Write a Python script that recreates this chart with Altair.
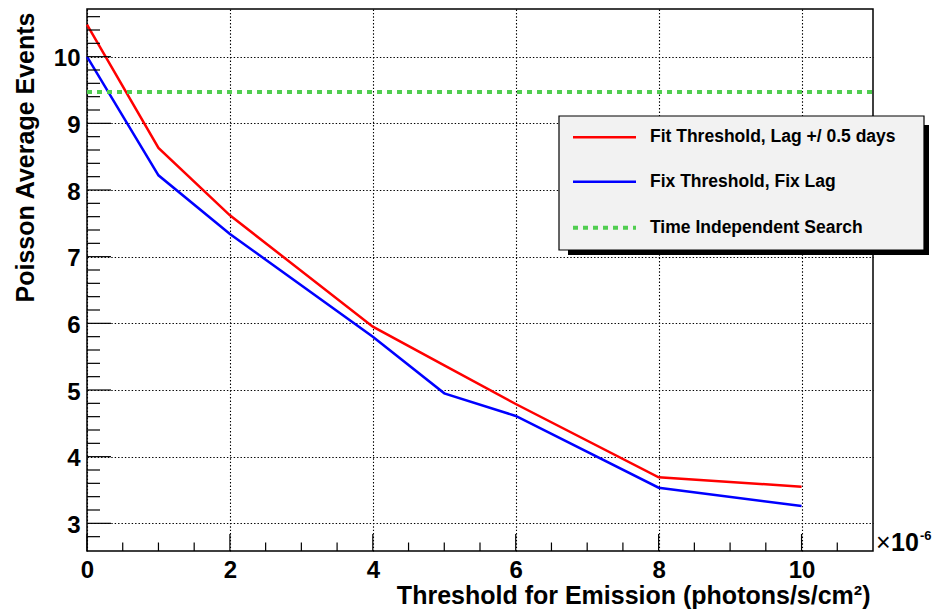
import altair as alt
import pandas as pd

# ---------------- data ----------------
x_fit = [0, 1, 2, 4, 5, 6, 8, 10]
y_fit = [10.48, 8.63, 7.62, 5.95, 5.37, 4.79, 3.69, 3.55]
x_fix = [0, 1, 2, 4, 5, 6, 8, 10]
y_fix = [10.0, 8.22, 7.34, 5.80, 4.95, 4.61, 3.535, 3.26]
time_indep = [9.47]

series_names = ["Fit Threshold, Lag +/ 0.5 days", "Fix Threshold, Fix Lag", "Time Independent Search"]
series_colors = ["#ff0000", "#0000ff", "#50cd50"]

x_major = [0, 2, 4, 6, 8, 10]
x_minor = [0.5, 1, 1.5, 2.5, 3, 3.5, 4.5, 5, 5.5, 6.5, 7, 7.5, 8.5, 9, 9.5, 10.5]
y_major = [3, 4, 5, 6, 7, 8, 9, 10]
y_minor = [2.8, 3.2, 3.4, 3.6, 3.8, 4.2, 4.4, 4.6, 4.8, 5.2, 5.4, 5.6, 5.8,
           6.2, 6.4, 6.6, 6.8, 7.2, 7.4, 7.6, 7.8, 8.2, 8.4, 8.6, 8.8,
           9.2, 9.4, 9.6, 9.8, 10.2, 10.4, 10.6]

x_title = "Threshold for Emission (photons/s/cm²)"
y_title = "Poisson Average Events"

X_DOMAIN = [0, 11]
Y_DOMAIN = [2.585, 10.715]
W, H = 786, 542
FONT = "Liberation Sans"

xs = alt.Scale(domain=X_DOMAIN, nice=False, zero=False)
ys = alt.Scale(domain=Y_DOMAIN, nice=False, zero=False)

df_lines = pd.DataFrame({
    "x": x_fit + x_fix,
    "y": y_fit + y_fix,
    "series": [series_names[0]] * len(x_fit) + [series_names[1]] * len(x_fix),
})

grid_style = dict(grid=True, gridColor="black", gridDash=[1.4, 2], gridWidth=1.1, gridOpacity=1,
                  ticks=False, tickSize=0, domain=False,
                  labelFont=FONT, labelFontWeight="bold", labelFontSize=24, labelColor="black",
                  labelFlush=False, labelOverlap=False,
                  titleFont=FONT, titleFontWeight="bold", titleFontSize=25, titleColor="black")

x_axis = alt.Axis(values=x_major, format="d", title=x_title,
                  labelPadding=26, labelBaseline="alphabetic",
                  titleX=783, titleY=52, titleAlign="right", titleBaseline="alphabetic",
                  **grid_style)
y_axis = alt.Axis(values=y_major, format="d", title=y_title,
                  labelPadding=7, labelOffset=2,
                  titleX=-54, titleY=3, titleAngle=270, titleAlign="right", titleBaseline="alphabetic",
                  **grid_style)

lines = alt.Chart(df_lines).mark_line(strokeWidth=2.5).encode(
    x=alt.X("x:Q", scale=xs, axis=x_axis, title=x_title),
    y=alt.Y("y:Q", scale=ys, axis=y_axis, title=y_title),
    color=alt.Color("series:N", scale=alt.Scale(domain=series_names[:2], range=series_colors[:2]), legend=None),
    detail="series:N",
)

green = alt.Chart(pd.DataFrame({"y": time_indep})).mark_rule(
    color=series_colors[2], strokeWidth=4, strokeDash=[5, 5]
).encode(y=alt.Y("y:Q", scale=ys, axis=y_axis, title=y_title), x=alt.value(0), x2=alt.value(W))

def xticks(vals, length):
    return alt.Chart(pd.DataFrame({"x": vals})).mark_rule(color="black", strokeWidth=1.2).encode(
        x=alt.X("x:Q", scale=xs, axis=x_axis, title=x_title), y=alt.value(H), y2=alt.value(H - length))

def yticks(vals, length):
    return alt.Chart(pd.DataFrame({"y": vals})).mark_rule(color="black", strokeWidth=1.2).encode(
        y=alt.Y("y:Q", scale=ys, axis=y_axis, title=y_title), x=alt.value(0), x2=alt.value(length))

one = pd.DataFrame({"k": [0]})

shadow = alt.Chart(one).mark_rect(color="black").encode(
    x=alt.value(481), x2=alt.value(842), y=alt.value(116), y2=alt.value(246))
box = alt.Chart(one).mark_rect(fill="#f2f2f2", stroke="black", strokeWidth=1.2).encode(
    x=alt.value(472), x2=alt.value(837), y=alt.value(107), y2=alt.value(241))

legend_layers = []
row_y = [128.3, 172.7, 218.7]
for i, name in enumerate(series_names):
    if i < 2:
        sample = alt.Chart(one).mark_rule(color=series_colors[i], strokeWidth=2.5)
    else:
        sample = alt.Chart(one).mark_rule(color=series_colors[i], strokeWidth=4, strokeDash=[5, 5])
    legend_layers.append(sample.encode(x=alt.value(486), x2=alt.value(549), y=alt.value(row_y[i])))
    legend_layers.append(
        alt.Chart(one).mark_text(text=name, align="left", baseline="middle", font=FONT,
                                 fontSize=17.5, fontWeight="bold", color="black")
        .encode(x=alt.value(563), y=alt.value(row_y[i])))

times = alt.Chart(one).mark_text(text="×", align="left", baseline="alphabetic", font=FONT,
                                 fontSize=25, color="black").encode(x=alt.value(789), y=alt.value(542))
ten = alt.Chart(one).mark_text(text="10", align="left", baseline="alphabetic", font=FONT,
                               fontSize=25, fontWeight="bold", color="black").encode(x=alt.value(804), y=alt.value(542))
expo = alt.Chart(one).mark_text(text="-6", align="left", baseline="alphabetic", font=FONT,
                                fontSize=13, fontWeight="bold", color="black").encode(x=alt.value(833), y=alt.value(531))

chart = alt.layer(
    lines,
    xticks(x_major, 17), xticks(x_minor, 8.5),
    yticks(y_major, 24), yticks(y_minor, 13),
    green,
    shadow, box, *legend_layers,
    times, ten, expo,
).properties(
    width=W, height=H,
    autosize=alt.AutoSizeParams(type="none"),
    padding={"left": 87, "top": 9, "right": 61, "bottom": 59},
    background="white",
).configure_view(stroke="black", strokeWidth=1.5)

chart.save("out.html", embed_options={"renderer": "svg", "actions": False})
